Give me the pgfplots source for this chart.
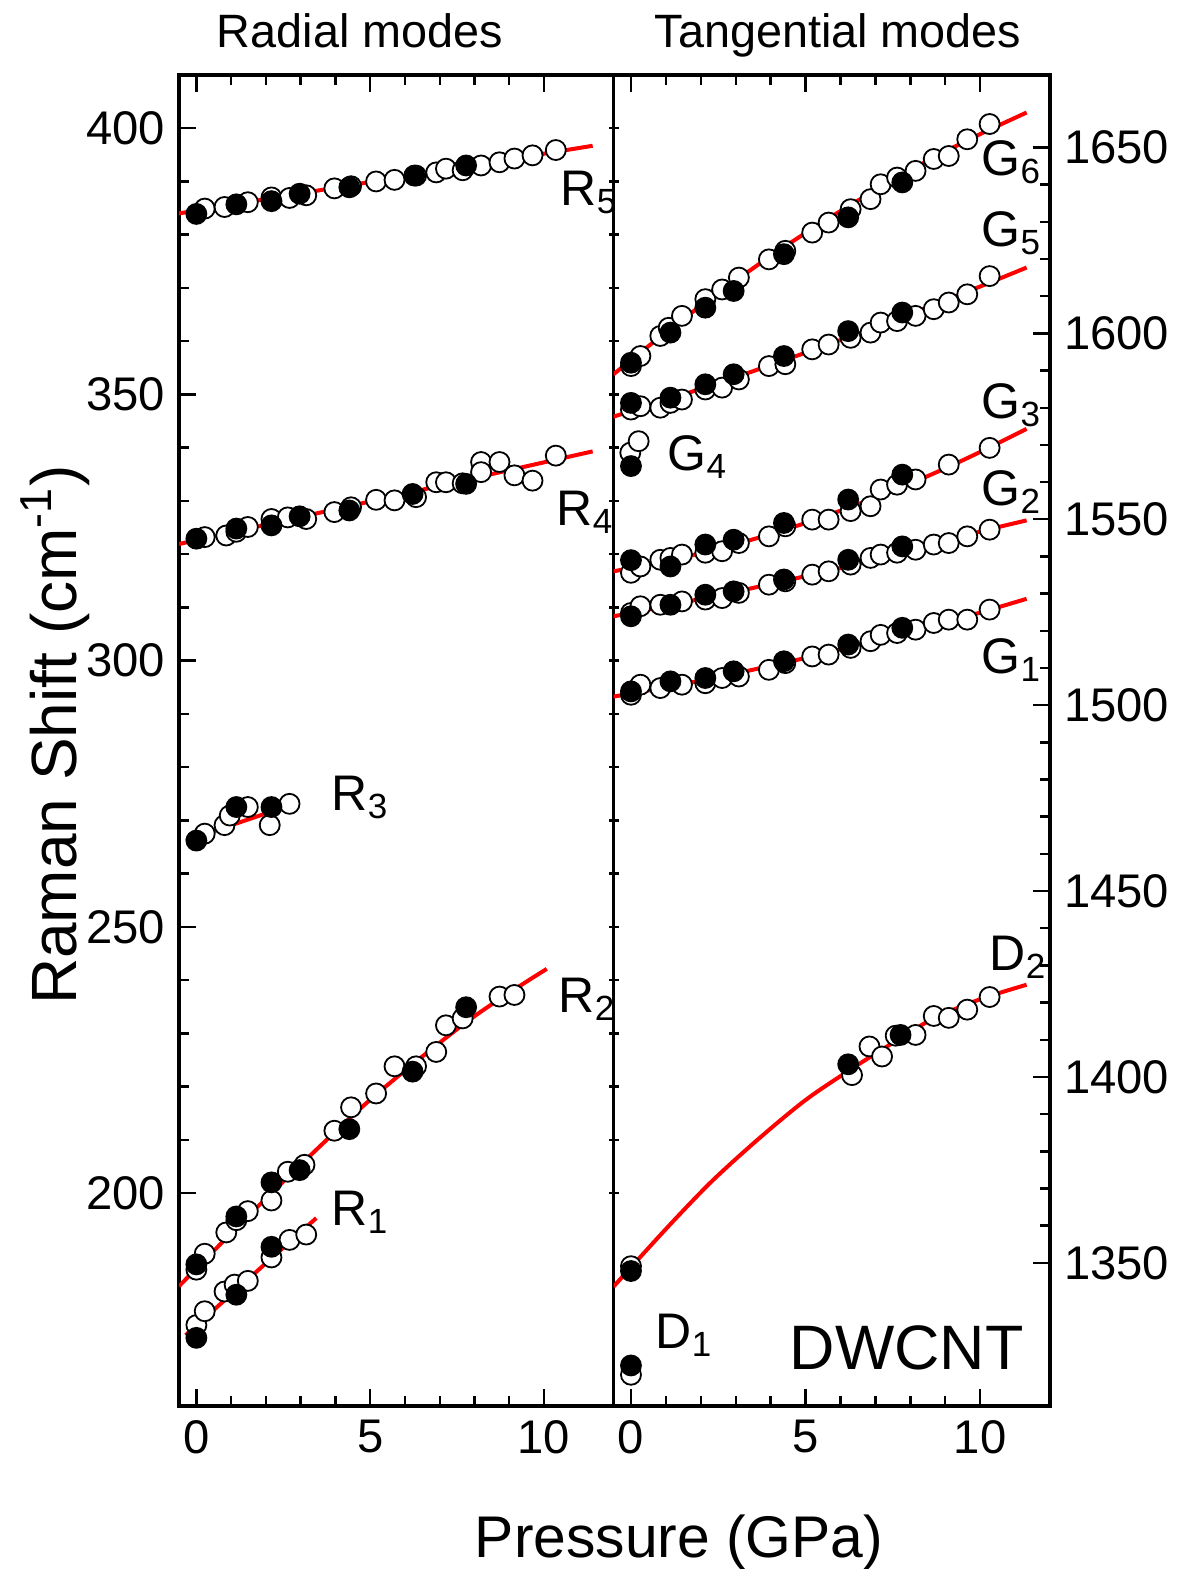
\documentclass[border=0pt]{standalone}
\usepackage{fontspec}
\setmainfont{Liberation Sans}
\usepackage{pgfplots}
\pgfplotsset{compat=1.18}

% 1 px of the reference = 0.25pt
\newcommand{\pxy}[2]{({(#1)*0.25pt},{(1569-(#2))*0.25pt})}
\newcommand{\tickfont}{\fontsize{11.8}{13}\selectfont}
\newcommand{\lblfont}{\fontsize{12.5}{14}\selectfont}

\pgfplotsset{
  panel/.style={
    scale only axis, anchor=south west, height=332.75pt,
    xmin=-0.5, xmax=12, xtick={0,5,10}, minor x tick num=4,
    minor y tick num=4,
    tick align=inside, xtick pos=both,
    major tick length=4.25pt, minor tick length=2.5pt,
    every tick/.style={black, line width=0.6pt},
    axis line style={line width=0.8pt},
    tick label style={font=\tickfont},
    /pgf/number format/assume math mode=true,
    /pgf/number format/1000 sep={},
  },
  open/.style={only marks, mark=*, mark size=2.5pt,
    mark options={fill=white, draw=black, line width=0.45pt}},
  full/.style={only marks, mark=*, mark size=2.5pt,
    mark options={fill=black, draw=black, line width=0.45pt}},
  fit/.style={red, line width=1pt, no marks, smooth},
}

\begin{document}
\begin{tikzpicture}
\path[use as bounding box] (0,0) rectangle (295.25pt,392.25pt);

% ---------- radial modes ----------
\begin{axis}[panel, at={(44.75pt,40.75pt)}, width=108.625pt,
    ymin=160, ymax=410, ytick={200,250,...,400}, ytick pos=left]
% open symbols
\addplot[open] coordinates {(0.24,384.9)(0.81,385.2)(1.48,386.1)(2.16,387.0)(2.68,386.9)(3.16,387.4)(3.97,388.7)(4.45,389.1)(5.17,390.0)(5.70,390.3)(6.32,391.1)(6.90,391.7)(7.18,392.4)(7.66,392.1)(8.19,393.0)(8.72,393.6)(9.15,394.3)(9.67,394.9)(10.34,395.9)};
\addplot[open] coordinates {(0.24,323.2)(0.86,323.5)(1.15,324.2)(1.48,325.1)(2.16,326.6)(2.63,326.9)(3.16,326.6)(3.97,327.9)(4.45,328.8)(5.17,330.2)(5.70,330.1)(6.32,330.7)(6.90,333.5)(7.18,333.5)(7.66,333.3)(8.19,337.3)(8.19,335.4)(8.72,337.3)(9.15,334.8)(9.67,333.8)(10.34,338.5)};
\addplot[open] coordinates {(0.24,267.5)(0.81,269.1)(0.96,270.9)(1.48,272.5)(2.11,269.1)(2.68,273.1)};
\addplot[open] coordinates {(0,185.6)(0.24,188.6)(0.86,192.6)(1.15,194.9)(1.48,196.6)(2.16,198.6)(2.63,204.0)(3.11,205.3)(3.97,211.7)(4.45,216.1)(5.17,218.7)(5.70,223.8)(6.32,223.8)(6.90,226.5)(7.18,231.5)(7.66,232.8)(8.72,236.9)(9.15,237.2)};
\addplot[open] coordinates {(0,175.2)(0.24,177.8)(0.81,181.5)(1.10,182.8)(1.48,183.5)(2.16,187.9)(2.68,191.2)(3.16,192.2)};
% filled symbols
\addplot[full] coordinates {(0,383.9)(1.15,385.7)(2.16,386.3)(2.97,387.7)(4.40,388.9)(6.27,391.1)(7.76,393.0)};
\addplot[full] coordinates {(0,322.9)(1.15,324.8)(2.16,325.4)(2.97,327.1)(4.40,328.2)(6.22,331.3)(7.76,333.2)};
\addplot[full] coordinates {(0,266.2)(1.15,272.5)(2.16,272.5)};
\addplot[full] coordinates {(0,186.6)(1.15,195.6)(2.16,202.0)(2.97,204.3)(4.40,212.0)(6.22,222.8)(7.76,234.9)};
\addplot[full] coordinates {(0,172.8)(1.15,180.9)(2.16,189.9)};
% fits
\addplot[fit] coordinates {(-0.5,384.0)(5,389.9)(11.4,396.7)};
\addplot[fit] coordinates {(-0.5,321.9)(5,329.9)(11.4,339.3)};
\addplot[fit] coordinates {(-0.3,266.2)(2.95,273.4)};
\addplot[fit] coordinates {(-0.5,182.5)(2.10,199.6)(4.98,217.4)(7.85,232.5)(10.08,242.1)};
\addplot[fit] coordinates {(-0.31,173.3)(3.45,195.3)};
\end{axis}

% short ticks across the shared border (radial scale)
\begin{axis}[scale only axis, anchor=south west, at={(44.75pt,40.75pt)},
    width=108.625pt, height=332.75pt, xmin=-0.5, xmax=12,
    ymin=160, ymax=410, ytick={200,250,...,400}, minor y tick num=4,
    axis y line*=right, hide x axis, yticklabels={}, tick align=center,
    major tick length=2.5pt, minor tick length=2.5pt,
    every tick/.style={black, line width=0.6pt},
    axis line style={line width=0.8pt}]
\end{axis}

% ---------- tangential modes ----------
\begin{axis}[panel, at={(153.375pt,40.75pt)}, width=109.125pt,
    ymin=1311.5, ymax=1669.5, ytick={1350,1400,...,1650},
    ytick pos=right, yticklabel pos=right]
% open symbols
\addplot[open] coordinates {(0,1591.2)(0.27,1593.9)(0.84,1599.3)(1.08,1601.5)(1.46,1604.7)(2.13,1609.2)(2.61,1611.8)(3.09,1615.0)(3.95,1619.9)(4.42,1622.2)(5.19,1627.1)(5.66,1629.8)(6.29,1633.4)(6.86,1636.1)(7.15,1640.1)(7.62,1641.9)(8.15,1643.7)(8.67,1646.9)(9.10,1647.7)(9.63,1652.2)(10.27,1656.3)};
\addplot[open] coordinates {(0,1579.5)(0.27,1580.4)(0.84,1580.0)(1.13,1581.3)(1.46,1582.2)(2.13,1584.9)(2.61,1585.4)(3.09,1587.6)(3.95,1591.2)(4.42,1591.7)(5.19,1595.7)(5.66,1597.0)(6.29,1598.8)(6.86,1600.2)(7.15,1602.9)(7.62,1603.3)(8.15,1604.7)(8.67,1606.5)(9.10,1608.3)(9.63,1610.5)(10.27,1615.4)};
\addplot[open] coordinates {(-0.02,1567.9)(0.22,1571.0)};
\addplot[open] coordinates {(0,1535.6)(0.27,1537.3)(0.84,1539.1)(1.13,1539.6)(1.46,1540.5)(2.13,1541.0)(2.61,1541.4)(3.09,1543.6)(3.95,1545.4)(4.42,1548.1)(5.19,1549.9)(5.66,1549.9)(6.29,1552.2)(6.86,1553.5)(7.15,1558.0)(7.62,1559.3)(8.15,1560.7)(9.10,1564.7)(10.27,1569.2)};
\addplot[open] coordinates {(0,1524.8)(0.27,1526.6)(0.84,1527.0)(1.46,1527.9)(2.13,1528.4)(2.61,1528.8)(3.09,1530.2)(3.95,1532.4)(4.42,1533.3)(5.19,1535.1)(5.66,1536.0)(6.29,1537.8)(6.86,1539.6)(7.15,1540.5)(7.62,1541.0)(8.15,1541.8)(8.67,1543.2)(9.10,1543.6)(9.63,1545.4)(10.27,1547.2)};
\addplot[open] coordinates {(0,1502.8)(0.27,1505.5)(0.84,1504.6)(1.46,1505.5)(2.13,1505.9)(2.61,1507.3)(3.09,1507.7)(3.95,1509.5)(4.42,1511.3)(5.19,1513.1)(5.66,1513.6)(6.29,1515.4)(6.86,1517.2)(7.15,1518.9)(7.62,1519.4)(8.15,1520.3)(8.67,1522.1)(9.10,1523.0)(9.63,1523.0)(10.27,1525.7)};
\addplot[open] coordinates {(0,1349.1)(6.33,1400.5)(6.83,1408.2)(7.19,1405.5)(7.58,1411.1)(8.15,1411.3)(8.67,1416.4)(9.10,1415.9)(9.63,1418.1)(10.27,1421.5)};
\addplot[open] coordinates {(0,1319.9)};
% filled symbols
\addplot[full] coordinates {(0,1592.1)(1.13,1600.2)(2.13,1606.9)(2.94,1611.4)(4.38,1621.3)(6.22,1631.2)(7.77,1640.6)};
\addplot[full] coordinates {(0,1581.3)(1.13,1582.7)(2.13,1586.3)(2.94,1589.0)(4.38,1593.9)(6.22,1600.6)(7.77,1605.6)};
\addplot[full] coordinates {(0,1564.3)};
\addplot[full] coordinates {(0,1539.0)(1.13,1537.3)(2.13,1543.2)(2.94,1544.5)(4.38,1549.0)(6.22,1555.3)(7.77,1562.0)};
\addplot[full] coordinates {(0,1523.9)(1.13,1527.0)(2.13,1529.7)(2.94,1530.6)(4.38,1533.8)(6.22,1539.1)(7.77,1542.7)};
\addplot[full] coordinates {(0,1503.7)(1.13,1506.4)(2.13,1507.3)(2.94,1509.1)(4.38,1511.8)(6.22,1516.3)(7.77,1520.8)};
\addplot[full] coordinates {(0,1347.8)(6.22,1403.4)(7.72,1411.3)};
\addplot[full] coordinates {(0,1322.4)};
% fits
\addplot[fit] coordinates {(-0.5,1589.0)(1,1600.3)(2,1607.4)(3,1614.2)(4,1620.8)(5,1627.0)(6,1632.9)(7,1638.5)(8,1643.9)(9,1648.9)(10,1653.6)(11.33,1659.4)};
\addplot[fit] coordinates {(-0.5,1577.6)(1,1582.0)(2,1585.1)(3,1588.2)(4,1591.5)(5,1594.8)(6,1598.2)(7,1601.6)(8,1605.2)(9,1608.9)(10,1612.6)(11.33,1617.7)};
\addplot[fit] coordinates {(-0.5,1536.0)(1,1538.7)(2,1540.9)(3,1543.3)(4,1546.0)(5,1549.0)(6,1552.3)(7,1555.8)(8,1559.6)(9,1563.7)(10,1568.1)(11.33,1574.3)};
\addplot[fit] coordinates {(-0.5,1523.9)(1,1526.6)(2,1528.6)(3,1530.5)(4,1532.6)(5,1534.7)(6,1536.9)(7,1539.2)(8,1541.5)(9,1544.1)(10,1546.7)(11.33,1549.7)};
\addplot[fit] coordinates {(-0.5,1502.3)(1,1504.8)(2,1506.6)(3,1508.5)(4,1510.6)(5,1512.7)(6,1515.0)(7,1517.3)(8,1519.7)(9,1522.3)(10,1524.9)(11.33,1528.6)};
\addplot[fit] coordinates {(-0.5,1343.6)(0.99,1359.0)(2.3,1371.8)(3.66,1383.4)(5,1393.8)(6.24,1401.7)(7.4,1408.6)(8.62,1415.5)(10,1420.9)(11.33,1424.8)};
\end{axis}

% ---------- texts ----------
\begin{scope}[every node/.style={inner sep=0pt, anchor=base west, font=\lblfont}]
\node at \pxy{560}{206} {R\textsubscript{5}};
\node at \pxy{556}{526} {R\textsubscript{4}};
\node at \pxy{331}{811} {R\textsubscript{3}};
\node at \pxy{558}{1013} {R\textsubscript{2}};
\node at \pxy{331}{1226} {R\textsubscript{1}};
\node at \pxy{981}{176} {G\textsubscript{6}};
\node at \pxy{981}{247} {G\textsubscript{5}};
\node at \pxy{981}{419} {G\textsubscript{3}};
\node at \pxy{667}{471} {G\textsubscript{4}};
\node at \pxy{981}{506} {G\textsubscript{2}};
\node at \pxy{981}{674} {G\textsubscript{1}};
\node at \pxy{989}{971} {D\textsubscript{2}};
\node at \pxy{655}{1349} {D\textsubscript{1}};
\node[font=\fontsize{15.7}{18}\selectfont] at \pxy{789}{1370} {DWCNT};
\end{scope}

\node[inner sep=0pt, anchor=base, font=\fontsize{11.7}{13}\selectfont] at \pxy{360}{48} {Radial modes};
\node[inner sep=0pt, anchor=base, font=\fontsize{11.7}{13}\selectfont] at \pxy{838}{48} {Tangential modes};
\node[inner sep=0pt, anchor=base, font=\fontsize{14.7}{18}\selectfont] at \pxy{679}{1558} {Pressure (GPa)};
\node[inner sep=0pt, rotate=90, font=\fontsize{16}{19}\selectfont] at \pxy{55}{735} {Raman Shift (cm\textsuperscript{-1})};
\end{tikzpicture}
\end{document}
